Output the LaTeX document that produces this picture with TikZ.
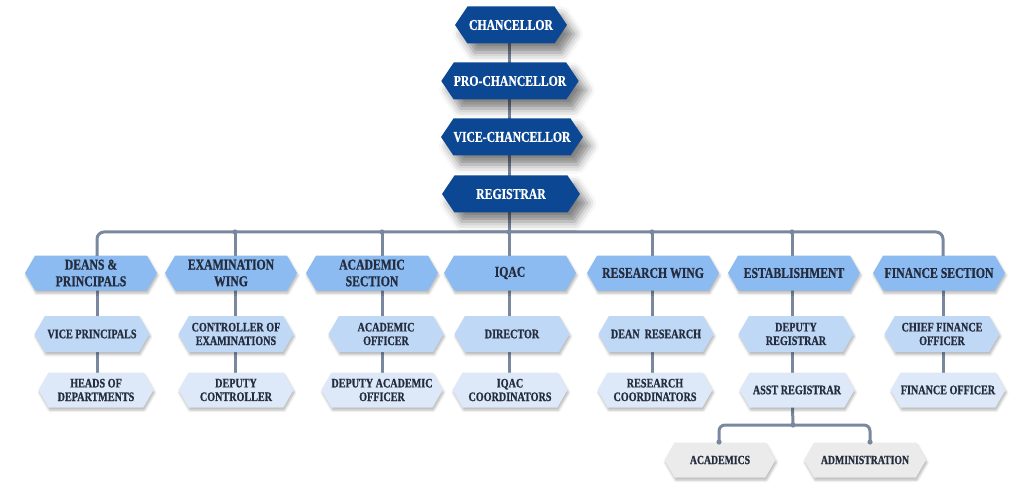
\documentclass[tikz,border=0pt]{standalone}
\usepackage{fontspec}
\setmainfont{Liberation Serif}[FakeStretch=0.78,BoldFeatures={FakeBold=0.8}]
\usetikzlibrary{%
  shapes.symbols,%
  shadows.blur,%
  backgrounds
}
\definecolor{chiefblue}{HTML}{0C4793}
\definecolor{wingblue}{HTML}{8CBBF1}
\definecolor{officeblue}{HTML}{BFD8F6}
\definecolor{staffblue}{HTML}{DDE9F8}
\definecolor{unitgray}{HTML}{EBEBEB}
\definecolor{linkgray}{HTML}{7A889F}
\definecolor{inkgray}{HTML}{242C3D}

\begin{document}
\begin{tikzpicture}[x=1pt,y=-1pt,
    hex/.style={signal,signal to=east and west,signal pointer angle=120,draw=none,inner xsep=0pt,inner ysep=0pt,align=center,text=inkgray,font=\bfseries\fontsize{13}{13.6}\selectfont,lowshadow},
    lowshadow/.style={blur shadow={shadow xshift=1pt,shadow yshift=-2.5pt,shadow blur radius=2.5pt,shadow opacity=30}},
    chief/.style={signal,signal to=east and west,signal pointer angle=112,draw=none,inner sep=0pt,fill=chiefblue,text=white,minimum height=37pt,font=\bfseries\fontsize{15}{16}\selectfont,blur shadow={shadow xshift=7pt,shadow yshift=-9pt,shadow blur radius=9pt,shadow opacity=50}},
    wing/.style={hex,fill=wingblue,minimum width=132pt,minimum height=35pt,font=\bfseries\fontsize{15}{16.6}\selectfont},
    office/.style={hex,fill=officeblue,minimum width=115pt,minimum height=36pt},
    staff/.style={hex,fill=staffblue,minimum width=115pt,minimum height=35pt},
    unit/.style={hex,fill=unitgray,minimum height=35pt,font=\bfseries\fontsize{12.5}{13}\selectfont},
    link/.style={draw=linkgray,line width=3pt},
    joint/.style={fill=linkgray}]
  \useasboundingbox (0,0) rectangle (1021,484);

  \node[chief,minimum width=112pt] (chan) at (511,25) {CHANCELLOR};
  \node[chief,minimum width=137pt] (pro) at (510,81) {PRO-CHANCELLOR};
  \node[chief,minimum width=138pt] (vice) at (512,137) {VICE-CHANCELLOR};
  \node[chief,minimum width=138pt] (reg) at (511,194) {REGISTRAR};

  \node[wing] (w1) at (91,273) {DEANS \&\\PRINCIPALS};
  \node[wing] (w2) at (231,273) {EXAMINATION\\WING};
  \node[wing] (w3) at (372,273) {ACADEMIC\\SECTION};
  \node[wing] (w4) at (510,273) {IQAC};
  \node[wing] (w5) at (653,273) {RESEARCH WING};
  \node[wing] (w6) at (794,273) {ESTABLISHMENT};
  \node[wing] (w7) at (939,273) {FINANCE SECTION};

  \node[office] (o1) at (92,334) {VICE PRINCIPALS};
  \node[office] (o2) at (236,334) {CONTROLLER OF\\EXAMINATIONS};
  \node[office] (o3) at (386,334) {ACADEMIC\\OFFICER};
  \node[office] (o4) at (512,334) {DIRECTOR};
  \node[office] (o5) at (656,334) {DEAN\ \ RESEARCH};
  \node[office] (o6) at (796,334) {DEPUTY\\REGISTRAR};
  \node[office] (o7) at (942,334) {CHIEF FINANCE\\OFFICER};

  \node[staff] (s1) at (96,390) {HEADS OF\\DEPARTMENTS};
  \node[staff] (s2) at (236,390) {DEPUTY\\CONTROLLER};
  \node[staff,minimum width=121pt] (s3) at (382,390) {DEPUTY ACADEMIC\\OFFICER};
  \node[staff] (s4) at (510,390) {IQAC\\COORDINATORS};
  \node[staff] (s5) at (655,390) {RESEARCH\\COORDINATORS};
  \node[staff] (s6) at (797,390) {ASST REGISTRAR};
  \node[staff] (s7) at (948,390) {FINANCE OFFICER};

  \node[unit,minimum width=111pt] (acad) at (720,460) {ACADEMICS};
  \node[unit,minimum width=122pt] (admin) at (865,460) {ADMINISTRATION};

  \coordinate (b1) at (97,232);
  \coordinate (b2) at (235,232);
  \coordinate (b3) at (382,232);
  \coordinate (b4) at (509,232);
  \coordinate (b5) at (652,232);
  \coordinate (b6) at (792,232);
  \coordinate (b7) at (943,232);
  \coordinate (fork) at (793,425);
  \coordinate (u1) at (719,442);
  \coordinate (u2) at (870,442);

  \begin{scope}[on background layer]
    \draw[link] (b4 |- chan) -- (b4);
    \draw[link,rounded corners=7pt] (b1 |- w1) |- (b4) -| (b7 |- w7);
    \draw[link] (b1 |- w1) -- (b1 |- s1);
    \draw[link] (b7 |- w7) -- (b7 |- s7);
    \draw[link] (b2) -- (b2 |- s2);
    \draw[link] (b3) -- (b3 |- s3);
    \draw[link] (b4) -- (b4 |- s4);
    \draw[link] (b5) -- (b5 |- s5);
    \draw[link] (b6) -- (b6 |- s6);
    \draw[link] (b6 |- s6) -- (fork);
    \draw[link,rounded corners=6pt] (u1) |- (fork) -| (u2);
  \end{scope}
  \fill[joint] (b2) circle (2.6pt) (b3) circle (2.6pt) (b4) circle (2.6pt)
    (b5) circle (2.6pt) (b6) circle (2.6pt);
  \fill[joint] (fork) circle (2.6pt) (u1) circle (2.6pt) (u2) circle (2.6pt);
\end{tikzpicture}
\end{document}
